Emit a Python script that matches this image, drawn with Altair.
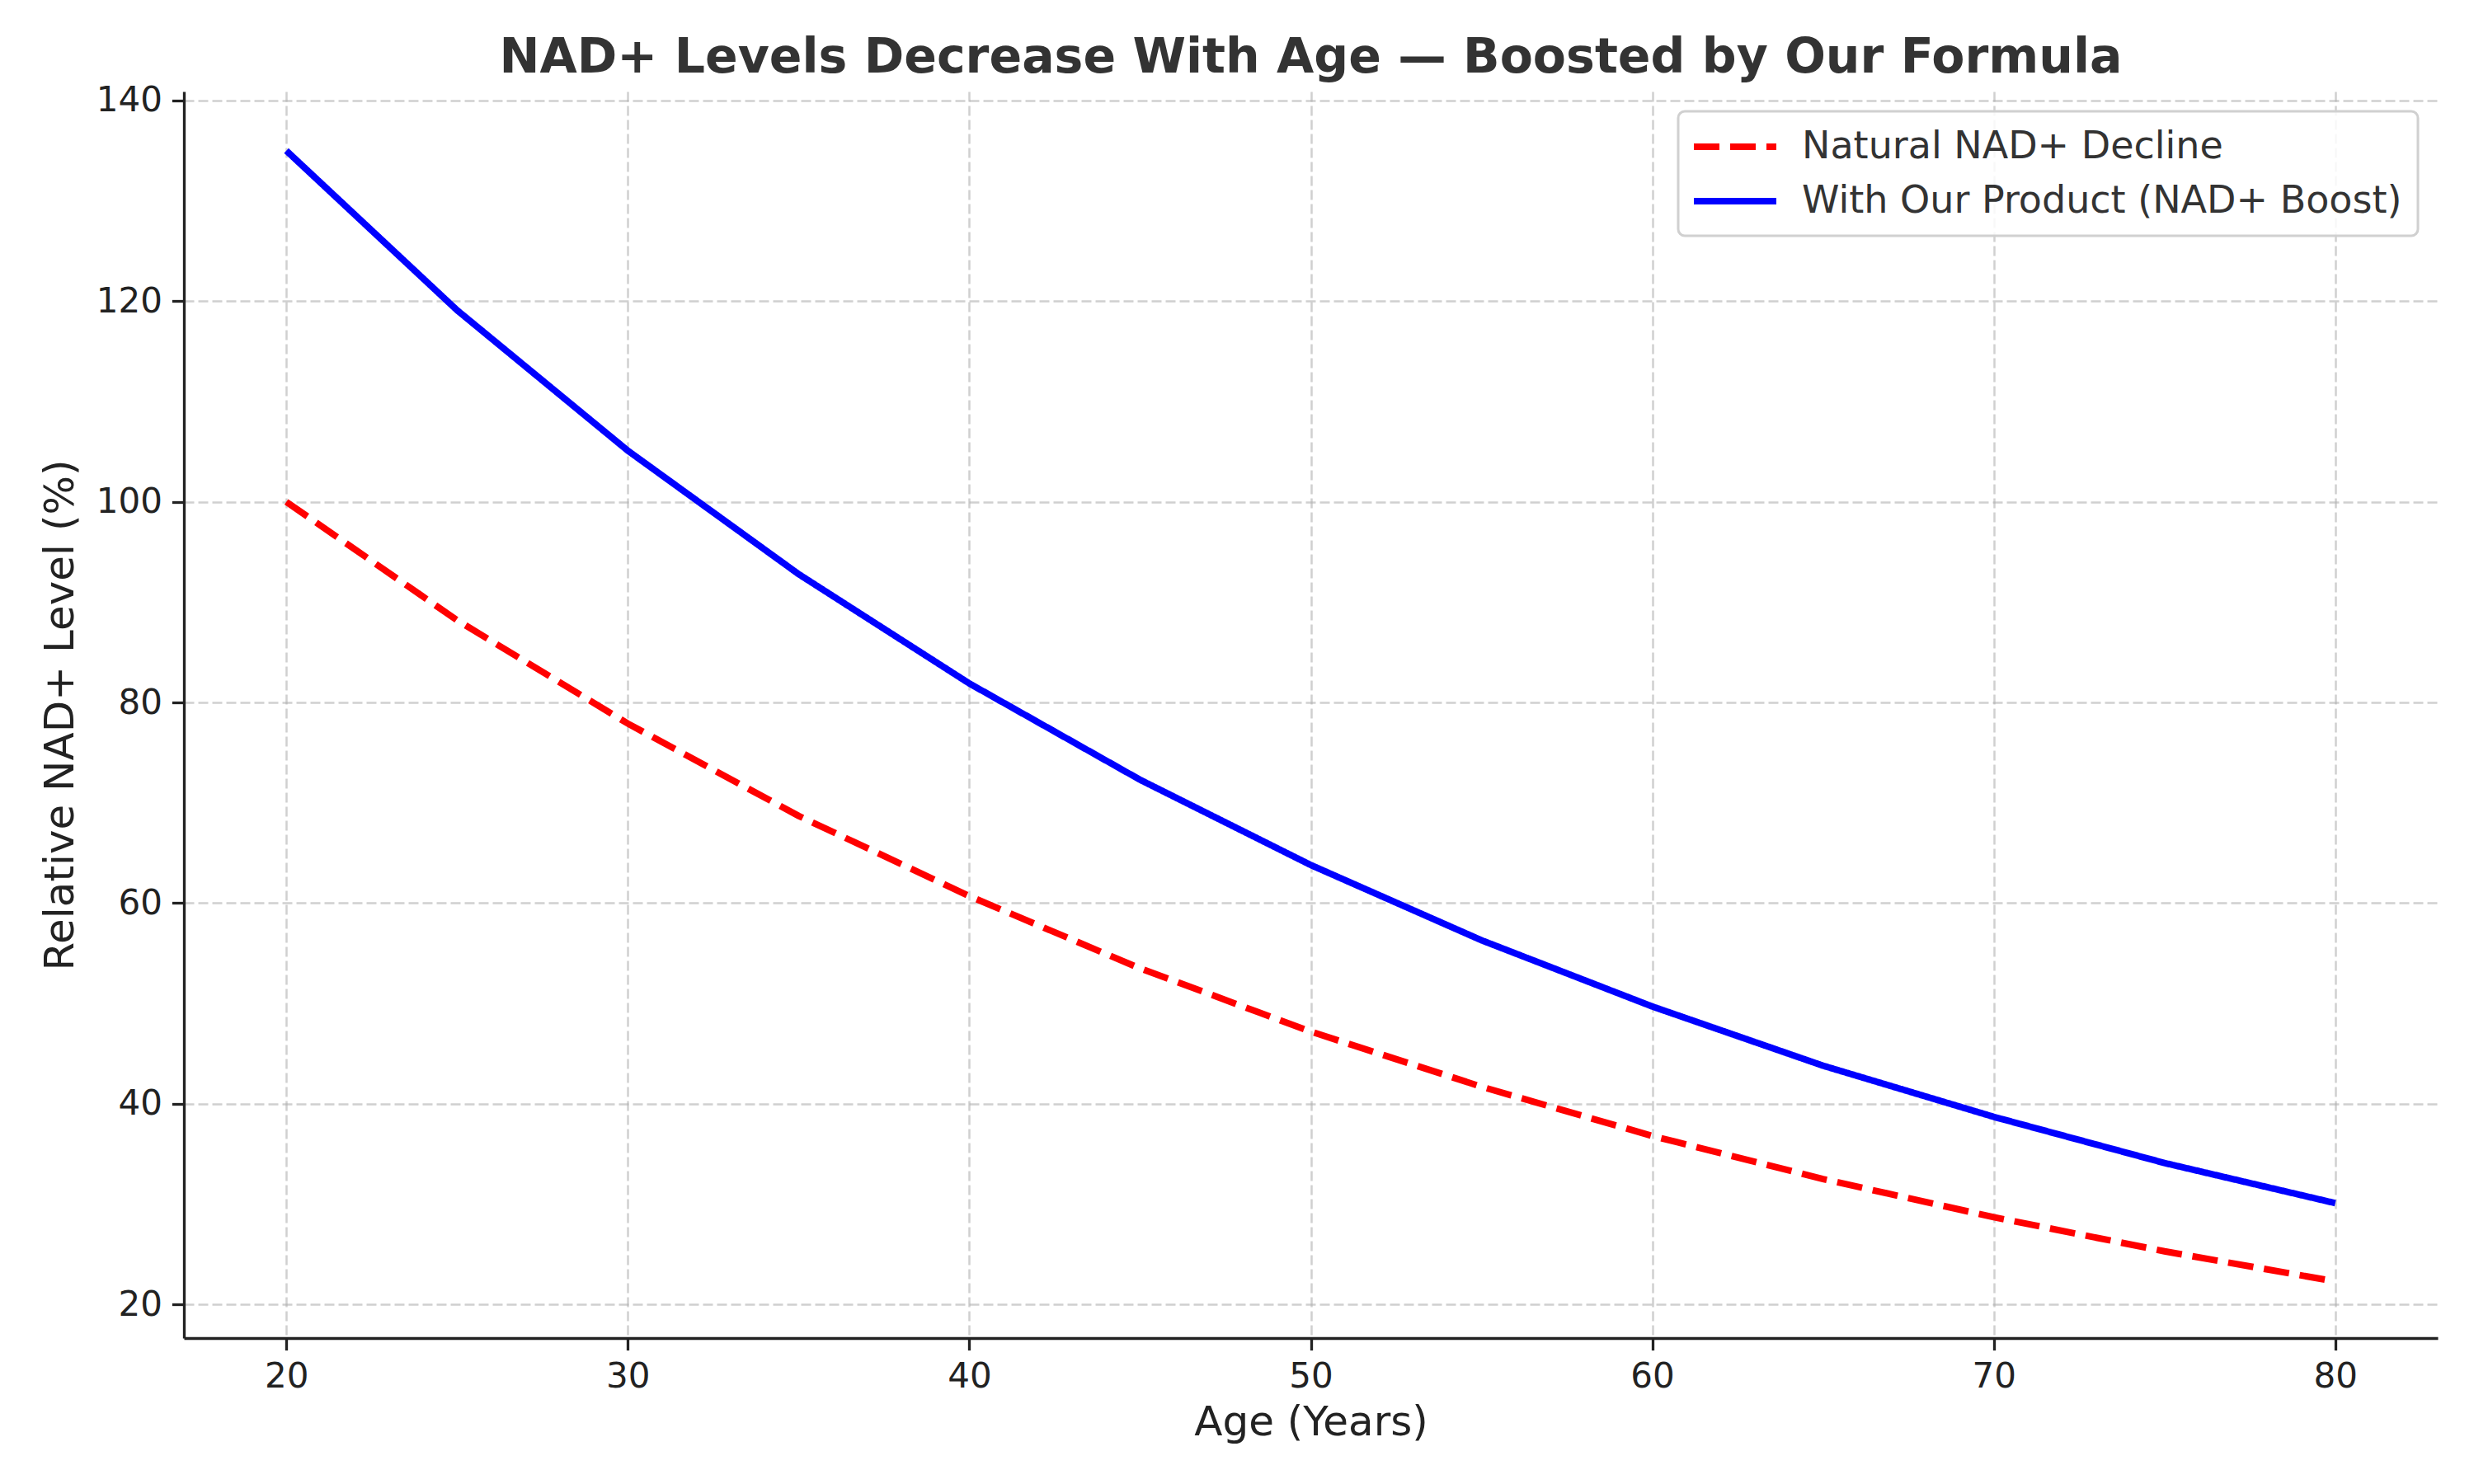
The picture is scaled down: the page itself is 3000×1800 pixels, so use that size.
import altair as alt
import pandas as pd

ages = [20, 25, 30, 35, 40, 45, 50, 55, 60, 65, 70, 75, 80]
natural = [100.0, 88.2, 77.9, 68.7, 60.7, 53.5, 47.2, 41.7, 36.8, 32.5, 28.7, 25.3, 22.3]
boosted = [135.0, 119.1, 105.1, 92.8, 81.9, 72.3, 63.8, 56.3, 49.7, 43.8, 38.7, 34.1, 30.1]
series_names = ["Natural NAD+ Decline", "With Our Product (NAD+ Boost)"]
x_ticks = [20, 30, 40, 50, 60, 70, 80]
y_ticks = [20, 40, 60, 80, 100, 120, 140]

rows = []
for a, v in zip(ages, natural):
    rows.append({"age": a, "level": v, "series": series_names[0]})
for a, v in zip(ages, boosted):
    rows.append({"age": a, "level": v, "series": series_names[1]})
df = pd.DataFrame(rows)

FONT = "DejaVu Sans"

chart = alt.Chart(df).mark_line(strokeWidth=8, strokeCap="butt").encode(
    x=alt.X("age:Q", title="Age (Years)",
            scale=alt.Scale(domain=[17, 83], nice=False, zero=False),
            axis=alt.Axis(values=x_ticks, format="d")),
    y=alt.Y("level:Q", title="Relative NAD+ Level (%)",
            scale=alt.Scale(domain=[16.65, 140.9], nice=False, zero=False),
            axis=alt.Axis(values=y_ticks, format="d")),
    color=alt.Color("series:N", sort=series_names,
                    scale=alt.Scale(domain=series_names, range=["#ff0000", "#0000ff"]),
                    legend=alt.Legend(title=None)),
    strokeDash=alt.StrokeDash("series:N", sort=series_names,
                              scale=alt.Scale(domain=series_names, range=[[31, 13], [1, 0]]),
                              legend=alt.Legend(title=None)),
    detail="series:N",
).properties(
    width=2733,
    height=1512,
    title=alt.TitleParams(
        text="NAD+ Levels Decrease With Age \u2014 Boosted by Our Formula",
        font=FONT, fontSize=58.5, fontWeight="bold", color="#333333",
        anchor="middle", offset=0,
    ),
    autosize=alt.AutoSizeParams(type="none"),
    padding={"left": 215, "top": 103, "right": 36, "bottom": 169},
).configure_view(
    stroke=None
).configure_axis(
    labelFont=FONT, labelFontSize=42, labelColor="#222222",
    titleFont=FONT, titleFontSize=50, titleColor="#222222", titleFontWeight="normal",
    domainColor="#222222", domainWidth=3.3,
    tickColor="#222222", tickWidth=3.3, tickSize=14.6,
    labelPadding=12,
    grid=True, gridColor="#b0b0b0", gridOpacity=0.6, gridWidth=2.5, gridDash=[12, 5],
).configure_axisX(
    titlePadding=10,
).configure_axisY(
    titlePadding=18,
).configure_legend(
    orient="top-right", offset=24,
    labelFont=FONT, labelFontSize=46, labelColor="#333333", labelLimit=0,
    symbolType="M-2.5,0H2.5", symbolSize=1600, symbolStrokeWidth=8,
    symbolOffset=26, labelOffset=57, padding=19, rowPadding=19,
    strokeColor="#d0d0d0", strokeWidth=3, cornerRadius=8,
    fillColor="rgba(255,255,255,0.85)",
)

chart.save("out.html", embed_options={"renderer": "svg", "actions": False})
